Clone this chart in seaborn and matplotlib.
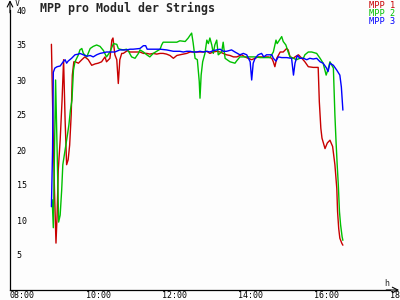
import numpy as np
import pandas as pd
import matplotlib
matplotlib.use("Agg")
import matplotlib.pyplot as plt
import seaborn as sns

# ---- data (time in decimal hours, value in V) ----
mpp1_t = [9.09, 9.14, 9.17, 9.21, 9.24, 9.27, 9.32, 9.37, 9.41, 9.45, 9.49, 9.53, 9.57, 9.61, 9.64, 9.68,
          9.72, 9.80, 9.89, 9.97, 10.06, 10.15, 10.24, 10.32, 10.41, 10.50, 10.54, 10.63, 10.68, 10.71, 10.76,
          10.81, 10.85, 10.89, 10.94, 10.98, 11.09, 11.16, 11.24, 11.33, 11.42, 11.51, 11.60, 11.68, 11.77,
          11.86, 11.95, 12.03, 12.12, 12.21, 12.30, 12.39, 12.47, 12.56, 12.65, 12.74, 12.82, 12.91, 13.00,
          13.09, 13.18, 13.26, 13.35, 13.44, 13.53, 13.61, 13.70, 13.79, 13.88, 13.97, 14.05, 14.10, 14.18,
          14.27, 14.36, 14.45, 14.53, 14.67, 14.80, 14.89, 14.93, 14.97, 15.02, 15.11, 15.19, 15.28, 15.32,
          15.37, 15.46, 15.50, 15.59, 15.68, 15.76, 15.85, 15.98, 16.11, 16.14, 16.18, 16.21, 16.29, 16.35,
          16.42, 16.49, 16.55, 16.60, 16.62, 16.65, 16.68, 16.73, 16.76]
mpp1_v = [35.1, 21.4, 14.3, 6.7, 10.7, 17.1, 21.4, 27.1, 32.9, 24.3, 17.9, 18.6, 20.7, 25.0, 30.7, 32.6,
          32.6, 32.4, 32.9, 33.3, 32.9, 32.1, 32.3, 32.4, 32.6, 33.3, 32.6, 33.1, 35.7, 36.0, 33.6,
          32.9, 29.5, 32.9, 33.8, 33.8, 34.2, 34.0, 34.0, 34.0, 34.0, 33.8, 33.8, 33.7, 33.8,
          33.7, 33.8, 33.8, 33.7, 33.5, 33.1, 33.5, 33.6, 33.7, 33.8, 34.0, 34.0, 34.0, 34.0,
          34.0, 34.1, 33.8, 34.0, 34.1, 34.0, 33.8, 33.6, 33.5, 33.3, 33.3, 33.5, 33.6, 33.3,
          33.1, 32.9, 33.1, 33.3, 33.3, 33.3, 33.1, 32.6, 31.9, 33.1, 34.0, 34.0, 34.5, 34.3,
          33.3, 33.1, 33.3, 33.6, 33.1, 32.6, 31.9, 31.8, 31.8, 26.9, 23.1, 21.7, 20.2, 21.0,
          21.4, 20.5, 17.9, 14.5, 11.2, 8.8, 7.4, 6.7, 6.4]

mpp2_t = [9.11, 9.14, 9.20, 9.24, 9.28, 9.32, 9.36, 9.39, 9.43, 9.47, 9.51, 9.55, 9.59, 9.63, 9.67, 9.71,
          9.80, 9.84, 9.89, 9.93, 10.02, 10.11, 10.19, 10.28, 10.37, 10.46, 10.54, 10.63, 10.72, 10.81,
          10.85, 10.89, 10.98, 11.07, 11.13, 11.20, 11.29, 11.38, 11.42, 11.51, 11.60, 11.68, 11.77, 11.86,
          11.95, 11.99, 12.03, 12.21, 12.39, 12.47, 12.61, 12.69, 12.74, 12.78, 12.82, 12.87, 12.93, 12.98,
          13.00, 13.03, 13.07, 13.13, 13.18, 13.22, 13.26, 13.31, 13.35, 13.39, 13.44, 13.48, 13.57, 13.61,
          13.66, 13.79, 13.92, 13.96, 14.05, 14.18, 14.32, 14.45, 14.58, 14.76, 14.84, 14.93, 15.00, 15.03,
          15.09, 15.15, 15.19, 15.26, 15.32, 15.37, 15.46, 15.54, 15.63, 15.72, 15.76, 15.85, 15.94, 16.07,
          16.16, 16.24, 16.32, 16.38, 16.42, 16.51, 16.55, 16.58, 16.61, 16.64, 16.67, 16.70, 16.74, 16.76]
mpp2_v = [12.9, 8.9, 30.0, 20.0, 9.7, 10.7, 14.3, 17.9, 19.3, 20.7, 22.1, 23.6, 25.7, 27.1, 31.4, 32.6,
          33.6, 34.3, 34.5, 33.8, 33.3, 34.5, 34.8, 35.0, 34.8, 34.2, 33.3, 34.0, 35.2, 35.1,
          34.5, 34.4, 34.3, 34.4, 34.0, 33.3, 33.1, 33.8, 34.3, 34.0, 33.6, 33.3, 33.8, 34.1,
          34.4, 35.0, 35.4, 35.4, 35.4, 35.6, 35.5, 36.0, 36.4, 36.7, 35.3, 33.1, 32.9, 29.8,
          27.4, 30.7, 32.6, 33.8, 35.7, 35.2, 36.0, 35.0, 33.8, 35.0, 35.7, 33.6, 34.0, 35.4,
          33.1, 32.6, 32.4, 32.7, 33.3, 33.3, 33.3, 33.3, 33.2, 33.2, 33.2, 34.0, 35.7, 35.2,
          35.7, 36.2, 35.5, 35.0, 34.0, 33.3, 33.1, 32.9, 33.1, 33.1, 33.6, 34.0, 34.0, 33.8,
          33.1, 32.4, 30.7, 31.7, 32.6, 31.7, 25.0, 21.2, 17.9, 15.0, 11.2, 9.3, 7.6, 7.1]

mpp3_t = [9.09, 9.12, 9.14, 9.18, 9.24, 9.32, 9.40, 9.45, 9.49, 9.53, 9.62, 9.71, 9.80, 9.84, 9.93, 10.02,
          10.11, 10.19, 10.28, 10.37, 10.46, 10.54, 10.63, 10.76, 10.89, 11.07, 11.16, 11.24, 11.42, 11.51,
          11.57, 11.61, 11.68, 11.77, 11.95, 12.12, 12.21, 12.30, 12.39, 12.47, 12.56, 12.65, 12.74, 12.82,
          12.91, 13.00, 13.09, 13.18, 13.26, 13.35, 13.44, 13.53, 13.61, 13.70, 13.83, 13.92, 14.05, 14.14,
          14.23, 14.32, 14.36, 14.40, 14.45, 14.53, 14.62, 14.68, 14.75, 14.89, 14.93, 15.00, 15.06, 15.15,
          15.28, 15.41, 15.46, 15.50, 15.56, 15.63, 15.72, 15.81, 15.89, 15.98, 16.07, 16.16, 16.24, 16.33,
          16.37, 16.42, 16.51, 16.60, 16.68, 16.72, 16.76]
mpp3_v = [11.9, 20.0, 31.1, 31.7, 31.9, 32.0, 32.6, 32.9, 32.4, 32.7, 33.1, 33.6, 33.7, 33.8, 33.6, 33.4,
          33.5, 33.3, 33.6, 33.8, 33.9, 34.0, 34.0, 34.0, 34.3, 34.3, 34.4, 34.4, 34.5, 34.9,
          34.9, 34.4, 34.4, 34.4, 34.4, 34.3, 34.2, 34.1, 34.1, 34.1, 34.0, 34.1, 34.1, 34.0,
          34.0, 34.1, 34.0, 34.1, 34.0, 34.2, 34.3, 34.4, 34.1, 34.1, 34.3, 34.0, 33.6, 33.8,
          33.6, 32.6, 30.0, 32.4, 33.1, 33.6, 33.8, 33.3, 33.6, 33.6, 33.1, 32.7, 33.3, 33.2,
          33.2, 33.1, 30.7, 32.4, 33.5, 33.1, 33.1, 32.9, 33.1, 33.0, 33.1, 32.6, 32.4, 31.7,
          31.2, 32.4, 32.1, 31.4, 30.7, 29.0, 25.7]

series_names = ["MPP 1", "MPP 2", "MPP 3"]
series_colors = ["#c80000", "#00c000", "#0000ff"]
y_ticks = [5, 10, 15, 20, 25, 30, 35, 40]
x_ticks = [8, 10, 12, 14, 16, 18]
x_tick_labels = ["08:00", "10:00", "12:00", "14:00", "16:00", "18:00"]
title = "MPP pro Modul der Strings"

frames = []
for name, t, v in zip(series_names, [mpp1_t, mpp2_t, mpp3_t], [mpp1_v, mpp2_v, mpp3_v]):
    frames.append(pd.DataFrame({"time": t, "value": v, "series": name}))
df = pd.concat(frames, ignore_index=True)

sns.set_style("white")
plt.rcParams["font.family"] = ["DejaVu Sans Mono", "DejaVu Sans"]

bg = "#fdfdfd"
fig = plt.figure(figsize=(4, 3), dpi=100, facecolor=bg)
ax = fig.add_axes([10 / 400, 10 / 300, 380 / 400, 280 / 300])
ax.set_facecolor(bg)

sns.lineplot(data=df, x="time", y="value", hue="series", hue_order=series_names,
             palette=series_colors, estimator=None, sort=False, legend=False,
             linewidth=1.0, ax=ax)

ax.set_xlim(8, 18)
ax.set_ylim(0, 40)
ax.set_xlabel("")
ax.set_ylabel("")
for s in ["top", "right"]:
    ax.spines[s].set_visible(False)
for s in ["left", "bottom"]:
    ax.spines[s].set_color("black")
    ax.spines[s].set_linewidth(0.9)

ax.set_yticks(y_ticks)
ax.set_yticklabels([str(v) for v in y_ticks])
ax.set_xticks(x_ticks)
ax.set_xticklabels(x_tick_labels)
ax.tick_params(axis="both", direction="inout", length=4.5, width=0.8, color="black",
               labelsize=6, labelcolor="black")
ax.tick_params(axis="y", pad=-7)
ax.tick_params(axis="x", pad=-1.5)
for lbl in ax.get_yticklabels():
    lbl.set_ha("left")
for lbl in ax.get_xticklabels():
    lbl.set_ha("left")

# axis arrows and unit labels
ax.annotate("", xy=(1.024, 0), xytext=(0.99, 0), xycoords="axes fraction",
            arrowprops=dict(arrowstyle="->", lw=0.8, color="black",
                            shrinkA=0, shrinkB=0), annotation_clip=False)
ax.annotate("", xy=(0, 1.035), xytext=(0, 0.99), xycoords="axes fraction",
            arrowprops=dict(arrowstyle="->", lw=0.8, color="black",
                            shrinkA=0, shrinkB=0), annotation_clip=False)
fig.text(387 / 400, 1 - 283 / 300, "h", fontsize=6, ha="center", va="center")
fig.text(17 / 400, 1 - 4 / 300, "V", fontsize=6, ha="center", va="center")

fig.text(40 / 400, 1 - 8 / 300, title, fontsize=8.4, fontweight="bold",
         ha="left", va="center")
for i, (name, col) in enumerate(zip(series_names, series_colors)):
    fig.text(395 / 400, 1 - (5 + 8 * i) / 300, name, fontsize=6.2, color=col,
             ha="right", va="center")

fig.savefig("out.png", dpi=100, facecolor=bg)
